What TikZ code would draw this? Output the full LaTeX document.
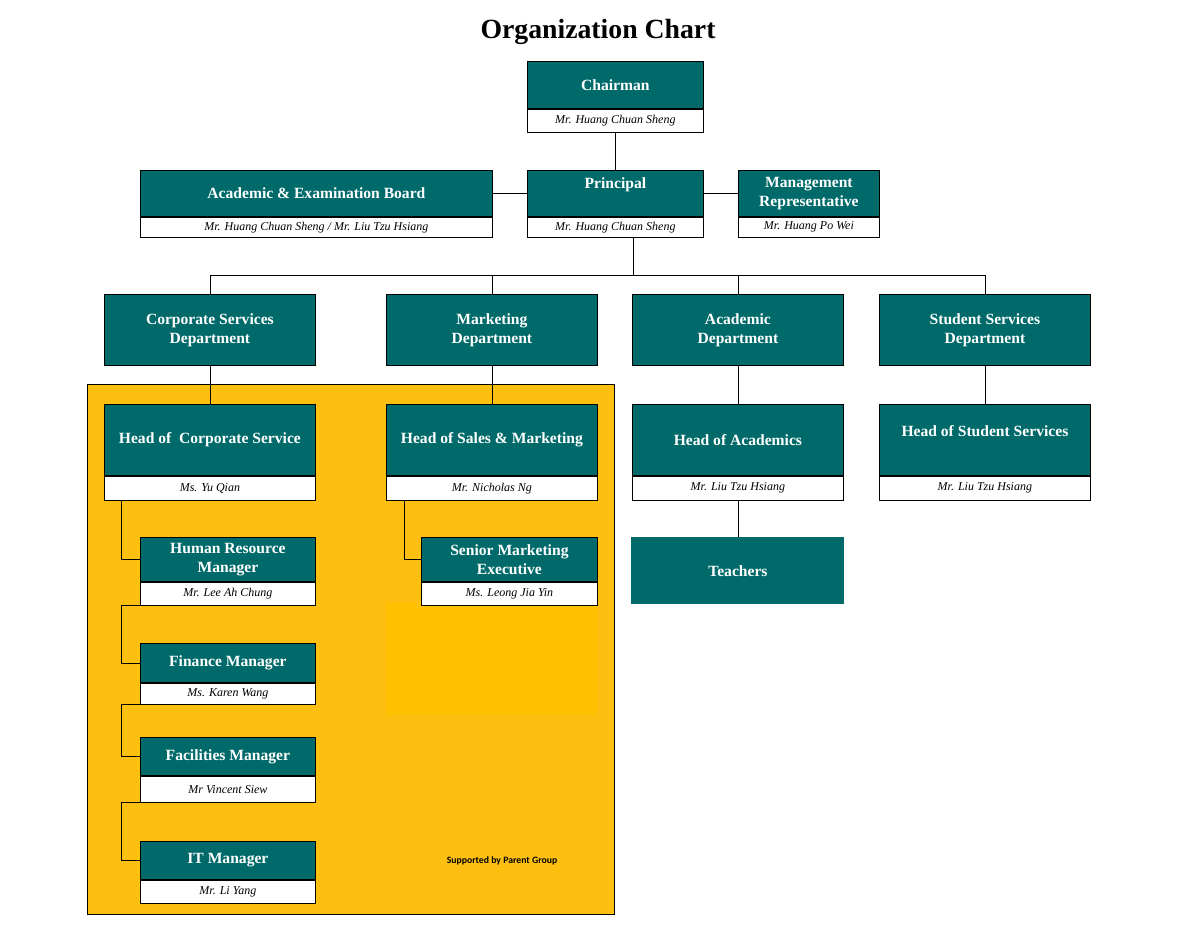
\documentclass[tikz,border=0pt]{standalone}
\usepackage{fontspec}
\setmainfont{Liberation Serif}
\newfontfamily\notefont{Carlito}
\usetikzlibrary{positioning}
\definecolor{orgteal}{RGB}{0,106,106}
\definecolor{orgorange}{RGB}{254,192,16}
\definecolor{orggold}{RGB}{255,193,0}

\begin{document}
\begin{tikzpicture}[x=0.75pt, y=-0.75pt,
    role/.style={draw, line width=0.6pt, fill=orgteal, text=white, anchor=north west, inner sep=0pt, align=center, font=\bfseries\fontsize{11.7}{14.3}\selectfont},
    holder/.style={draw, line width=0.6pt, fill=white, inner sep=0pt, font=\itshape\fontsize{9}{10}\selectfont},
    link/.style={draw, line width=0.6pt}]
    \def\px{0.75pt}
    \def\dw{211}
    \def\sw{175}
    \useasboundingbox (0,0) rectangle (1198,932);

    % supporting staff area
    \draw[line width=0.6pt, fill=orgorange] (87,384) rectangle (614,914);
    \fill[orggold] (386,603) rectangle (597,715);

    \node (orgtitle) [font=\bfseries\fontsize{20.8}{24}\selectfont] at (598,32) {Organization Chart};

    % top level
    \node (chair) [role, minimum width=176*\px, minimum height=47*\px] at (527,61) {Chairman};
    \node (chairp) [holder, minimum width=176*\px, minimum height=23*\px, below=0pt of chair] {Mr. Huang Chuan Sheng};
    \node (principal) [role, minimum width=176*\px, minimum height=46*\px, text depth=15pt] at (527,170) {Principal};
    \node (principalp) [holder, minimum width=176*\px, minimum height=20*\px, below=0pt of principal] {Mr. Huang Chuan Sheng};
    \node (board) [role, minimum width=352*\px, minimum height=46*\px] at (140,170) {Academic \& Examination Board};
    \node (boardp) [holder, minimum width=352*\px, minimum height=20*\px, below=0pt of board] {Mr. Huang Chuan Sheng / Mr. Liu Tzu Hsiang};
    \node (mgmt) [role, minimum width=141*\px, minimum height=46*\px] at (738,170) {Management\\Representative};
    \node (mgmtp) [holder, minimum width=141*\px, minimum height=20*\px, below=0pt of mgmt] {Mr. Huang Po Wei};

    % departments
    \node (corp) [role, minimum width=\dw*\px, minimum height=71*\px] at (104,294) {Corporate Services\\Department};
    \node (mkt) [role, minimum width=\dw*\px, minimum height=71*\px] at (386,294) {Marketing\\Department};
    \node (acad) [role, minimum width=\dw*\px, minimum height=71*\px] at (632,294) {Academic\\Department};
    \node (stud) [role, minimum width=\dw*\px, minimum height=71*\px] at (879,294) {Student Services\\Department};

    % heads
    \node (hcorp) [role, minimum width=\dw*\px, minimum height=71*\px] at (104,404) {Head of~ Corporate Service};
    \node (hcorpp) [holder, minimum width=\dw*\px, minimum height=24*\px, below=0pt of hcorp] {Ms. Yu Qian};
    \node (hmkt) [role, minimum width=\dw*\px, minimum height=71*\px] at (386,404) {Head of Sales \& Marketing};
    \node (hmktp) [holder, minimum width=\dw*\px, minimum height=24*\px, below=0pt of hmkt] {Mr. Nicholas Ng};
    \node (hacad) [role, minimum width=\dw*\px, minimum height=71*\px] at (632,404) {Head of Academics};
    \node (hacadp) [holder, minimum width=\dw*\px, minimum height=24*\px, below=0pt of hacad] {Mr. Liu Tzu Hsiang};
    \node (hstud) [role, minimum width=\dw*\px, minimum height=71*\px, text depth=14pt] at (879,404) {Head of Student Services};
    \node (hstudp) [holder, minimum width=\dw*\px, minimum height=24*\px, below=0pt of hstud] {Mr. Liu Tzu Hsiang};
    \node (teachers) [role, draw=none, minimum width=213*\px, minimum height=67*\px] at (631,537) {Teachers};

    % managers
    \node (hr) [role, minimum width=\sw*\px, minimum height=44*\px] at (140,537) {Human Resource\\Manager};
    \node (hrp) [holder, minimum width=\sw*\px, minimum height=23*\px, below=0pt of hr] {Mr. Lee Ah Chung};
    \node (fin) [role, minimum width=\sw*\px, minimum height=39*\px] at (140,643) {Finance Manager};
    \node (finp) [holder, minimum width=\sw*\px, minimum height=21*\px, below=0pt of fin] {Ms. Karen Wang};
    \node (fac) [role, minimum width=\sw*\px, minimum height=38*\px] at (140,737) {Facilities Manager};
    \node (facp) [holder, minimum width=\sw*\px, minimum height=26*\px, below=0pt of fac] {Mr Vincent Siew};
    \node (it) [role, minimum width=\sw*\px, minimum height=38*\px] at (140,841) {IT Manager};
    \node (itp) [holder, minimum width=\sw*\px, minimum height=23*\px, below=0pt of it] {Mr. Li Yang};
    \node (senior) [role, minimum width=176*\px, minimum height=44*\px] at (421,537) {Senior Marketing\\Executive};
    \node (seniorp) [holder, minimum width=176*\px, minimum height=23*\px, below=0pt of senior] {Ms. Leong Jia Yin};

    \node (support) [font=\notefont\bfseries\fontsize{7.3}{8}\selectfont] at (502,861) {Supported by Parent Group};

    % connectors
    \coordinate (bus) at (633,275);
    \coordinate (lane) at (121,0);
    \coordinate (mlane) at (404,0);
    \draw[link] (chairp.south) -- (principal.north);
    \draw[link] (board.east) -- (principal.west);
    \draw[link] (principal.east) -- (mgmt.west);
    \draw[link] (principalp.south -| bus) -- (bus);
    \draw[link] (corp.north) -- (corp.north |- bus) -- (stud.north |- bus) -- (stud.north);
    \draw[link] (mkt.north) -- (mkt.north |- bus);
    \draw[link] (acad.north) -- (acad.north |- bus);
    \draw[link] (corp.south) -- (hcorp.north);
    \draw[link] (mkt.south) -- (hmkt.north);
    \draw[link] (acad.south) -- (hacad.north);
    \draw[link] (stud.south) -- (hstud.north);
    \draw[link] (hacadp.south) -- (teachers.north);
    \draw[link] (hcorpp.south -| lane) |- (hr.west);
    \draw[link] (hrp.south west) -- (hrp.south west -| lane) |- (fin.west);
    \draw[link] (finp.south west) -- (finp.south west -| lane) |- (fac.west);
    \draw[link] (facp.south west) -- (facp.south west -| lane) |- (it.west);
    \draw[link] (hmktp.south -| mlane) |- (senior.west);
\end{tikzpicture}
\end{document}
